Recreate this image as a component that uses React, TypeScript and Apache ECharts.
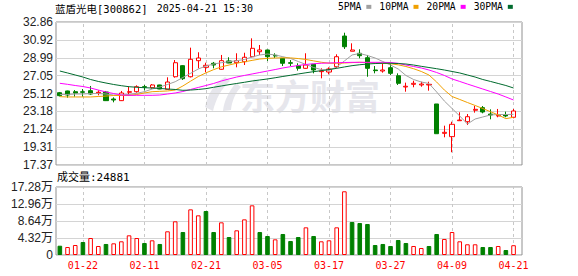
import React, { useEffect, useRef } from 'react';
import * as echarts from 'echarts';

const dates = ['01-17','01-20','01-21','01-22','01-23','01-24','01-27','02-05','02-06','02-07','02-10','02-11','02-12','02-13','02-14','02-17','02-18','02-19','02-20','02-21','02-24','02-25','02-26','02-27','02-28','03-03','03-04','03-05','03-06','03-07','03-10','03-11','03-12','03-13','03-14','03-17','03-18','03-19','03-20','03-21','03-24','03-25','03-26','03-27','03-28','03-31','04-01','04-02','04-03','04-07','04-08','04-09','04-10','04-11','04-14','04-15','04-16','04-17','04-18','04-21'];
const labelDates = ['01-22','02-11','02-21','03-05','03-17','03-27','04-09','04-21'];

const opens = [25.20,25.39,25.31,25.30,25.42,25.17,25.28,24.52,24.34,25.25,25.31,25.85,25.74,26.04,25.57,26.93,28.13,26.93,28.67,27.95,28.39,27.74,28.64,28.45,28.56,29.10,29.64,29.83,29.25,28.92,28.45,28.13,27.84,28.28,27.48,27.44,28.02,31.34,29.69,29.47,28.99,27.66,27.55,27.91,27.04,25.82,26.11,26.04,26.04,23.98,20.80,20.44,22.17,22.06,23.30,23.58,22.89,22.68,22.79,22.54];
const closes = [24.88,24.95,25.16,25.25,25.06,25.25,24.34,24.41,25.17,25.31,25.85,25.80,26.04,25.60,26.36,28.45,26.72,28.82,28.96,28.17,28.20,28.67,28.42,28.67,29.04,30.01,29.83,29.10,29.18,28.39,28.39,27.84,28.20,27.66,27.55,27.77,29.10,30.18,29.83,29.21,27.84,27.59,27.66,27.30,26.22,25.90,26.22,26.14,26.11,20.76,20.91,21.78,22.24,22.60,23.40,23.11,22.79,22.75,22.68,23.22];
const lows = [24.80,24.66,24.77,24.77,24.98,24.92,24.30,24.16,24.30,24.95,25.20,25.46,25.63,25.58,25.55,26.83,26.58,26.85,27.84,27.41,27.84,27.70,28.40,27.95,28.20,29.04,29.29,28.64,28.96,28.09,28.09,27.59,27.80,27.30,26.76,27.19,27.84,29.94,29.69,28.93,26.93,27.30,27.37,27.12,26.04,25.31,25.79,25.85,25.42,20.76,20.37,18.75,22.17,21.70,23.04,22.97,22.32,22.54,22.54,22.43];
const highs = [25.28,25.42,25.49,25.60,25.93,25.46,25.39,24.70,25.39,25.85,26.00,26.04,26.14,26.06,26.87,28.74,28.18,30.08,29.58,28.45,28.53,29.29,29.04,29.47,29.53,31.09,30.37,29.86,29.47,28.95,28.74,28.39,29.47,28.30,27.84,27.95,29.36,31.70,30.55,29.90,29.29,28.09,28.39,28.39,27.30,26.29,26.50,26.39,26.39,23.98,21.63,22.06,23.08,22.89,23.76,23.76,23.40,23.44,23.15,23.44];

const ma5 = [25.01,25.01,25.06,25.06,25.11,25.11,25.06,24.95,24.95,25.01,25.14,25.31,25.60,25.82,26.09,26.39,26.85,27.30,27.77,28.09,28.31,28.45,28.56,28.67,28.80,29.07,29.29,29.39,29.29,29.10,28.91,28.58,28.26,27.93,27.71,27.61,27.99,28.64,29.29,29.45,29.23,28.96,28.58,28.20,27.77,27.07,26.63,26.36,26.20,25.28,24.30,23.49,22.68,21.81,22.35,22.57,22.79,22.84,22.84,22.86];
const ma10 = [24.77,24.74,24.74,24.74,24.74,24.79,24.84,24.90,24.90,24.90,25.01,25.17,25.31,25.35,25.39,25.49,25.93,26.45,26.95,27.35,27.70,28.00,28.20,28.40,28.55,28.70,28.85,28.92,28.96,28.98,28.97,28.90,28.80,28.65,28.50,28.40,28.38,28.42,28.46,28.50,28.46,28.42,28.39,28.34,28.22,28.04,27.80,27.50,27.12,26.36,25.49,24.79,24.47,24.14,23.82,23.49,23.14,22.79,22.39,22.54];
const ma20 = [26.22,26.11,25.98,25.87,25.71,25.49,25.28,25.11,24.95,24.92,24.92,24.92,24.92,24.95,25.06,25.17,25.33,25.55,25.77,25.98,26.20,26.47,26.69,26.90,27.07,27.23,27.39,27.55,27.71,27.88,28.02,28.15,28.26,28.34,28.39,28.42,28.45,28.47,28.49,28.49,28.49,28.49,28.49,28.47,28.39,28.20,28.04,27.88,27.66,27.39,27.07,26.69,26.42,26.14,25.87,25.60,25.33,25.06,24.74,24.41];
const ma30 = [27.55,27.34,27.12,26.90,26.63,26.42,26.25,26.09,25.96,25.85,25.79,25.74,25.71,25.66,25.60,25.55,25.46,25.49,25.55,25.64,25.79,25.93,26.07,26.20,26.33,26.47,26.58,26.69,26.82,26.96,27.09,27.23,27.36,27.48,27.59,27.71,27.84,27.99,28.13,28.23,28.31,28.36,28.39,28.39,28.36,28.31,28.20,28.06,27.93,27.80,27.66,27.50,27.34,27.12,26.90,26.63,26.42,26.20,25.98,25.71];

const volumes = [23600,20300,25400,33000,43200,22900,28000,29700,34800,50000,43200,30500,37300,28000,60200,85600,58400,116000,100800,111800,58400,83000,45700,62700,90600,126200,58400,48300,39800,53400,35600,45700,70300,48300,34800,37300,70300,161900,83900,81300,78800,25400,28000,22900,38100,30500,22900,17800,22900,53400,40700,58400,34800,27200,27200,20300,20300,22900,12700,24881];
const volumeUp = [0,1,1,0,1,1,0,1,1,1, 1,0,1,0,1,1,0,1,1,0, 0,1,0,1,1,1,0,0,1,0, 0,0,1,0,1,1,1,1,0,0, 0,0,0,0,0,0,1,1,0,0, 1,1,1,1,1,0,0,1,0,1];

const priceTicks = ['17.37','19.31','21.24','23.18','25.12','27.05','28.99','30.92','32.86'];
const volumeTicks = ['0','4.32万','8.64万','12.96万','17.28万'];
const priceMin = 17.37;
const priceMax = 32.86;
const volumeMax = 172800;
const maNames = ['5PMA','10PMA','20PMA','30PMA'];
const maColors = ['#a0a0a0','#f0a000','#ff00ff','#006b2e'];

const UP = '#ff0000';
const DOWN = '#008000';
const GRIDLINE = '#d4d4d4';
const BORDER = '#909090';
const MONO = '"DejaVu Sans Mono", "Noto Sans CJK SC", monospace';

export default function App() {
  const ref = useRef<HTMLDivElement>(null);
  useEffect(() => {
    if (!ref.current) return;
    echarts.graphic.registerShape(
      'emlogo',
      echarts.graphic.extendPath(
        'M22 0 C12 6 5 16 2 30 L10 34 C13 22 18 12 27 4 Z M33 6 C26 14 21 24 20 34 L28 33 C29 23 33 15 38 10 Z',
        {}
      )
    );
    const chart = echarts.init(ref.current, null, { renderer: 'svg' });
    const isLabel = (i: number) => labelDates.indexOf(dates[i]) >= 0;
    const mainLeft = 56;
    const frameWidth = 466;
    const slotWidth = 7.69;
    const dataWidth = slotWidth * dates.length;

    const option: any = {
      animation: false,
      backgroundColor: '#ffffff',
      legend: {
        data: maNames,
        left: 338,
        top: 2,
        padding: 0,
        icon: 'rect',
        itemWidth: 5,
        itemHeight: 4,
        itemGap: 8,
        align: 'right',
        selectedMode: false,
        textStyle: { fontFamily: MONO, fontSize: 9.7, color: '#000' },
      },
      grid: [
        { left: mainLeft, top: 22, width: frameWidth, height: 143, show: true, borderColor: BORDER, borderWidth: 1 },
        { left: mainLeft, top: 22, width: dataWidth, height: 143 },
        { left: mainLeft, top: 187, width: frameWidth, height: 68, show: true, borderColor: BORDER, borderWidth: 1 },
        { left: mainLeft, top: 187, width: dataWidth, height: 68 },
      ],
      xAxis: [
        { type: 'value', gridIndex: 0, min: 0, max: 1, show: false },
        {
          type: 'category', gridIndex: 1, data: dates, boundaryGap: true,
          axisLine: { show: false },
          axisLabel: { show: false },
          axisTick: { show: true, inside: true, length: 143, alignWithLabel: true, interval: isLabel, lineStyle: { color: '#c8c8c8', type: [3, 3], width: 1 } },
          splitLine: { show: false },
        },
        { type: 'value', gridIndex: 2, min: 0, max: 1, show: false },
        {
          type: 'category', gridIndex: 3, data: dates, boundaryGap: true,
          axisLine: { show: false },
          axisLabel: { show: true, interval: isLabel, color: UP, fontFamily: MONO, fontSize: 10, margin: 5 },
          axisTick: { show: true, inside: true, length: 68, alignWithLabel: true, interval: isLabel, lineStyle: { color: '#c8c8c8', type: [3, 3], width: 1 } },
          splitLine: { show: false },
        },
      ],
      yAxis: [
        {
          type: 'value', gridIndex: 0, min: 0, max: priceTicks.length - 1, interval: 1,
          axisLine: { show: false }, axisTick: { show: false },
          axisLabel: { formatter: (v: number) => priceTicks[Math.round(v)], color: '#222', fontFamily: '"Liberation Sans", Arial, sans-serif', fontSize: 12, margin: 3 },
          splitLine: { show: true, lineStyle: { color: GRIDLINE, width: 1 } },
        },
        { type: 'value', gridIndex: 1, min: priceMin, max: priceMax, show: false, splitLine: { show: false } },
        {
          type: 'value', gridIndex: 2, min: 0, max: volumeTicks.length - 1, interval: 1,
          axisLine: { show: false }, axisTick: { show: false },
          axisLabel: { formatter: (v: number) => volumeTicks[Math.round(v)], color: '#222', fontFamily: '"Liberation Sans", "Noto Sans CJK SC", sans-serif', fontSize: 12, margin: 3 },
          splitLine: { show: true, lineStyle: { color: GRIDLINE, width: 1 } },
        },
        { type: 'value', gridIndex: 3, min: 0, max: volumeMax, show: false, splitLine: { show: false } },
      ],
      series: [
        {
          type: 'candlestick', name: 'K', xAxisIndex: 1, yAxisIndex: 1, barWidth: 4.6,
          data: dates.map((_, i) => [opens[i], closes[i], lows[i], highs[i]]),
          itemStyle: { color: '#ffffff', color0: DOWN, borderColor: UP, borderColor0: DOWN, borderWidth: 1 },
          silent: true,
        },
        ...maNames.map((name, k) => ({
          type: 'line', name, xAxisIndex: 1, yAxisIndex: 1,
          data: [ma5, ma10, ma20, ma30][k],
          symbol: 'none', showSymbol: false, silent: true,
          color: maColors[k],
          lineStyle: { color: maColors[k], width: 1 },
        })),
        {
          type: 'bar', name: '成交量', xAxisIndex: 3, yAxisIndex: 3, barWidth: 4.6, silent: true,
          data: volumes.map((v, i) => ({
            value: v,
            itemStyle: volumeUp[i]
              ? { color: '#ffffff', borderColor: UP, borderWidth: 1 }
              : { color: DOWN, borderColor: DOWN, borderWidth: 1 },
          })),
        },
      ],
      graphic: [
        { type: 'emlogo', x: 203, y: 77, z: -1, style: { fill: '#e6e6ec' } },
        { type: 'text', x: 240, y: 94, z: -1, style: { text: '东方财富', fill: '#e6e6ec', fontSize: 35, fontWeight: 'bold', fontFamily: '"Noto Sans CJK SC"', verticalAlign: 'middle' } },
        { type: 'text', x: 55, y: 8.5, style: { text: '蓝盾光电[300862]', fill: '#000', fontSize: 10.5, fontFamily: MONO, verticalAlign: 'middle' } },
        { type: 'text', x: 156.7, y: 8.5, style: { text: '2025-04-21 15:30', fill: '#000', fontSize: 10, fontFamily: MONO, verticalAlign: 'middle' } },
        { type: 'text', x: 57, y: 177.7, style: { text: '成交量:' + volumes[volumes.length - 1], fill: '#000', fontSize: 11, fontFamily: MONO, verticalAlign: 'middle' } },
      ],
    };
    chart.setOption(option);
    return () => chart.dispose();
  }, []);
  return <div ref={ref} style={{ position: 'fixed', left: 0, top: 0, width: 578, height: 276 }} />;
}
